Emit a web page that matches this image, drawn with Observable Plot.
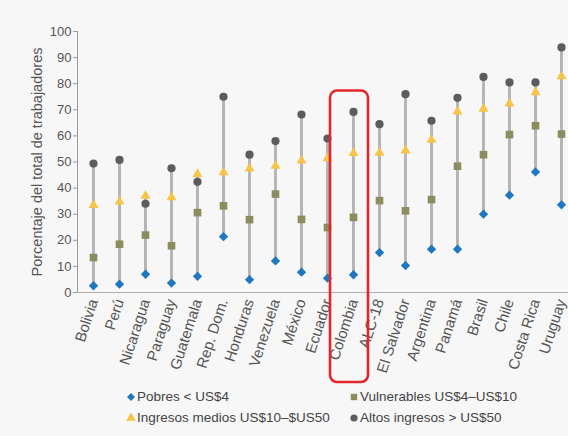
<!DOCTYPE html>
<html><head><meta charset="utf-8">
<script src="https://cdn.jsdelivr.net/npm/d3@7"></script>
<script src="https://cdn.jsdelivr.net/npm/@observablehq/plot@0.6"></script>
<style>
html,body{margin:0;padding:0;background:#f7f7f7;}
body{width:568px;height:436px;overflow:hidden;font-family:"Liberation Sans",Arial,sans-serif;}
#chart svg{display:block;}
.legend{display:grid;grid-template-columns:223px auto;padding-left:126px;margin-top:-3px;color:#444;font-size:13.5px;line-height:20.5px;}
.legend .item{display:flex;align-items:center;white-space:nowrap;}
.legend svg{margin-right:1px;flex:none;}
</style>
</head><body>
<div id="chart"></div>
<div class="legend" id="legend"></div>
<script>
const countries = ["Bolivia","Perú","Nicaragua","Paraguay","Guatemala","Rep. Dom.","Honduras","Venezuela","México","Ecuador","Colombia","ALC-18","El Salvador","Argentina","Panamá","Brasil","Chile","Costa Rica","Uruguay"];
const pobres      = [2.6, 3.2, 7.0, 3.6, 6.2, 21.4, 4.9, 12.1, 7.8, 5.5, 6.8, 15.3, 10.3, 16.6, 16.6, 30.0, 37.3, 46.2, 33.6];
const vulnerables = [13.4, 18.5, 22.0, 17.9, 30.6, 33.2, 27.9, 37.7, 28.0, 24.9, 28.8, 35.2, 31.3, 35.6, 48.4, 52.8, 60.5, 63.9, 60.7];
const medios      = [33.5, 34.8, 37.0, 36.4, 45.4, 46.0, 47.5, 48.5, 50.5, 51.4, 53.4, 53.5, 54.4, 58.5, 69.3, 70.4, 72.4, 76.7, 82.8];
const altos       = [49.4, 50.8, 34.0, 47.6, 42.4, 75.0, 52.8, 58.0, 68.2, 59.0, 69.2, 64.5, 76.0, 65.8, 74.6, 82.6, 80.5, 80.5, 93.9];
const yTicks = [0,10,20,30,40,50,60,70,80,90,100];
const seriesNames = ["Pobres < US$4","Vulnerables US$4\u2013US$10","Ingresos medios US$10\u2013$US50","Altos ingresos > US$50"];
const yLabel = "Porcentaje del total de trabajadores";
const highlight = "Colombia";

const colors = {pobres:"#1f77bf", vulnerables:"#8b8d5f", medios:"#f8c447", altos:"#5c5c60"};
const symbols = {pobres:"diamond2", vulnerables:"square", medios:"triangle", altos:"circle"};
const radii = {pobres:4.2, vulnerables:4.3, medios:3.7, altos:4.1};
const keys = ["pobres","vulnerables","medios","altos"];

const rows = countries.map((c,i)=>({country:c, pobres:pobres[i], vulnerables:vulnerables[i], medios:medios[i], altos:altos[i],
  lo: Math.min(pobres[i],vulnerables[i],medios[i],altos[i]), hi: Math.max(pobres[i],vulnerables[i],medios[i],altos[i])}));
const hRow = rows.find(r=>r.country===highlight);

const chart = Plot.plot({
  width: 568, height: 390,
  marginLeft: 77, marginRight: 0, marginTop: 31, marginBottom: 98,
  style: {background:"transparent", color:"#555", fontFamily:'"Liberation Sans",Arial,sans-serif', fontSize:"15px"},
  x: {type:"band", domain: countries, range:[77.9, 575.1], padding:0},
  y: {domain:[0,100]},
  marks: [
    Plot.ruleX(rows, {x:"country", y1:"lo", y2:"hi", stroke:"#b6b6b6", strokeWidth:3}),
    ...keys.map(k => Plot.dot(rows, {x:"country", y:k, symbol:symbols[k], fill:colors[k], r:radii[k], stroke:"none"})),
    Plot.frame({anchor:"left", stroke:"#9a9a9a"}),
    Plot.frame({anchor:"bottom", stroke:"#b0b0b0"}),
    Plot.axisY({ticks:yTicks, tickSize:4, tickPadding:2, fontSize:13, stroke:"#9a9a9a", label:null}),
    Plot.axisY({ticks:[], tickSize:0, label:yLabel, labelAnchor:"center", labelOffset:46, labelArrow:"none", fontSize:14.5}),
    Plot.axisX({tickRotate:-72, tickSize:0, tickPadding:7, fontSize:15, label:null}),
    Plot.barY([hRow], {x:"country", y1: -34.5, y2: d=>d.hi+8, fill:"none", stroke:"#e3262b", strokeWidth:2.6, rx:7, insetLeft:-10, insetRight:-2})
  ]
});
document.getElementById("chart").appendChild(chart);

// legend
const leg = document.getElementById("legend");
const symMap = {diamond2:d3.symbolDiamond2, square:d3.symbolSquare, triangle:d3.symbolTriangle, circle:d3.symbolCircle};
keys.forEach((k,i)=>{
  const item = document.createElement("div");
  item.className = "item";
  const r = k==="medios" ? 3.6 : 3.6;
  const path = d3.symbol(symMap[symbols[k]], Math.PI*r*r)();
  item.innerHTML = `<svg width="10" height="10" viewBox="-5 -5 10 10"><path d="${path}" fill="${colors[k]}"/></svg><span>${seriesNames[i]}</span>`;
  leg.appendChild(item);
});
</script>
</body></html>
